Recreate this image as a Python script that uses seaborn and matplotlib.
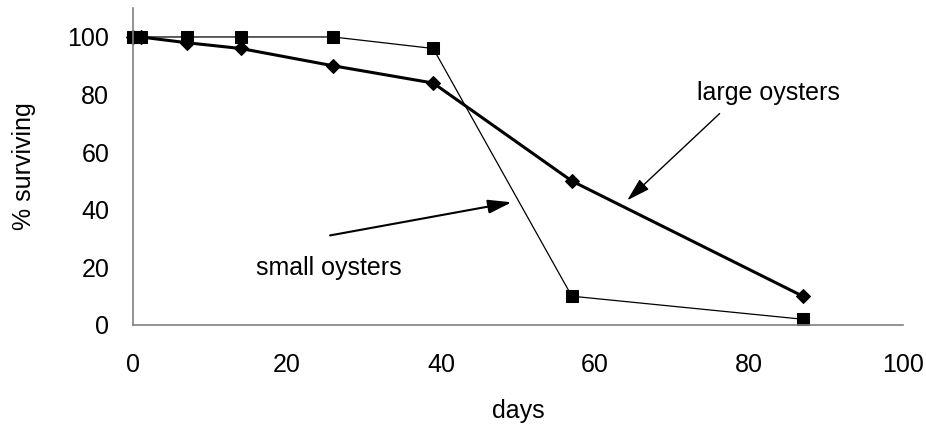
import matplotlib
matplotlib.use("Agg")
import matplotlib.pyplot as plt
import seaborn as sns
import pandas as pd

days = [0, 1, 7, 14, 26, 39, 57, 87]
small_oysters = [100, 100, 100, 100, 100, 96, 10, 2]
large_oysters = [100, 100, 98, 96, 90, 84, 50, 10]
x_ticks = [0, 20, 40, 60, 80, 100]
y_ticks = [0, 20, 40, 60, 80, 100]

sns.set_theme(style="white")
plt.rcParams['font.family'] = ['Liberation Sans', 'DejaVu Sans']
plt.rcParams['text.color'] = 'black'
plt.rcParams['axes.labelcolor'] = 'black'

fig = plt.figure(figsize=(9.26, 4.3), dpi=100)
ax = fig.add_axes([0.1436, 0.2442, 0.8314, 0.7368])

df_s = pd.DataFrame({"days": days, "pct": small_oysters})
df_l = pd.DataFrame({"days": days, "pct": large_oysters})

sns.lineplot(data=df_s, x="days", y="pct", ax=ax, color="black", linewidth=0.9,
             marker="s", markersize=8, markeredgecolor="black", clip_on=False)
sns.lineplot(data=df_l, x="days", y="pct", ax=ax, color="black", linewidth=2.2,
             marker="D", markersize=7.5, markeredgecolor="black", clip_on=False)

ax.set_xlim(0, 100)
ax.set_ylim(0, 110)
ax.set_xticks(x_ticks)
ax.set_yticks(y_ticks)
ax.tick_params(axis="both", direction="in", length=6, width=1, color="#808080",
               labelsize=18, labelcolor="black")
ax.tick_params(axis="x", pad=20)
ax.tick_params(axis="y", pad=17)
for s in ["top", "right"]:
    ax.spines[s].set_visible(False)
for s in ["left", "bottom"]:
    ax.spines[s].set_color("#808080")
    ax.spines[s].set_linewidth(1.2)

ax.set_xlabel("days", fontsize=18, labelpad=16)
ax.set_ylabel("% surviving", fontsize=18, labelpad=23)

ax.annotate("", xy=(64.2, 43.3), xytext=(76.2, 73.4),
            arrowprops=dict(arrowstyle="-|>,head_length=1.2,head_width=0.35", color="black", lw=1.0,
                            shrinkA=0, shrinkB=0))
ax.text(82.5, 80.6, "large oysters", fontsize=18, ha="center", va="center")
ax.annotate("", xy=(49.2, 42.6), xytext=(25.6, 31.1),
            arrowprops=dict(arrowstyle="-|>,head_length=1.2,head_width=0.35", color="black", lw=1.5,
                            shrinkA=0, shrinkB=0))
ax.text(25.5, 19.7, "small oysters", fontsize=18, ha="center", va="center")

fig.savefig("out.png", dpi=100)
